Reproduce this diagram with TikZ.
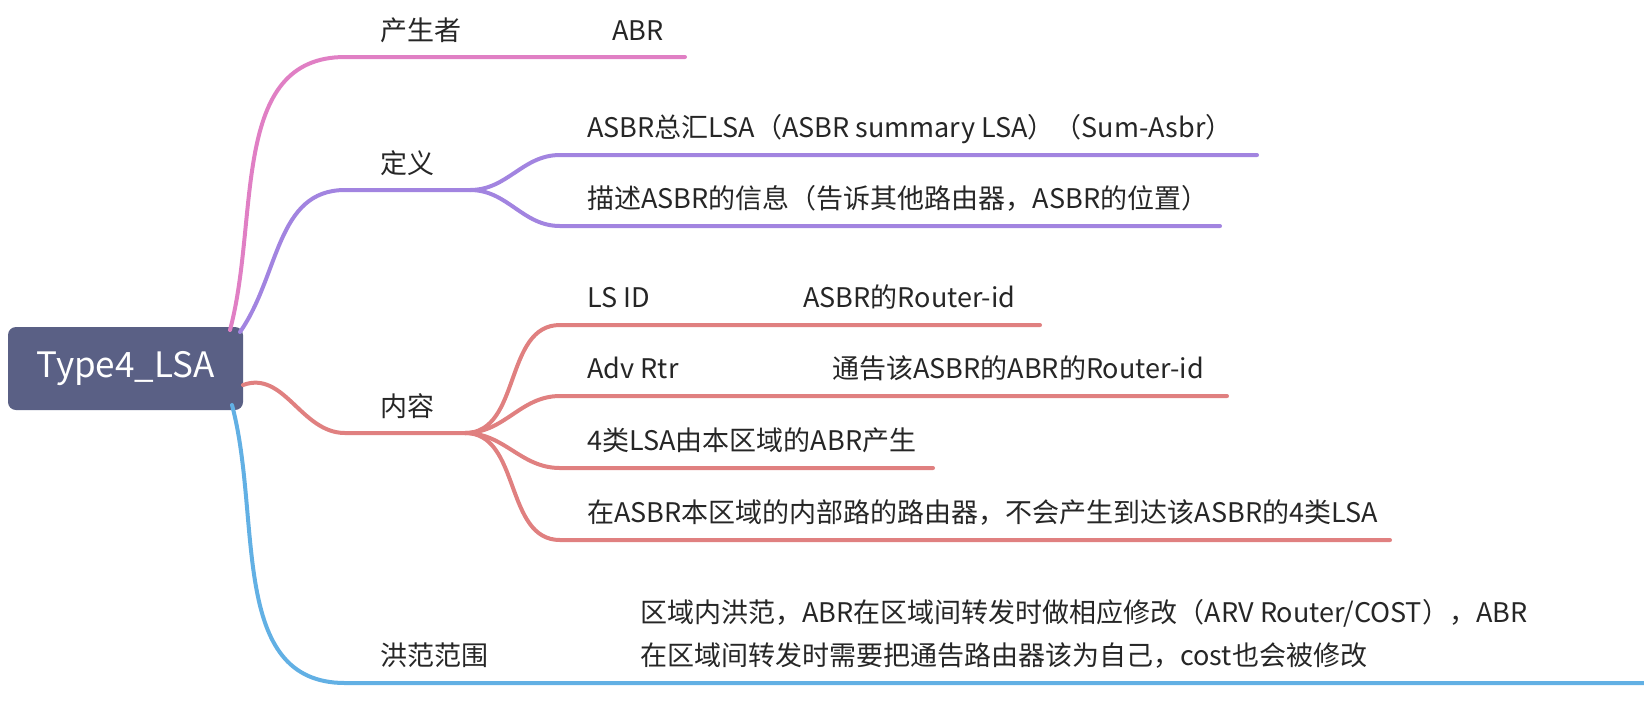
\documentclass[tikz,border=0pt]{standalone}
\usepackage{fontspec}
\setmainfont{Noto Sans CJK SC}
\begin{document}
\begin{tikzpicture}[x=0.5pt,y=-0.5pt,
  lbl/.style={anchor=base west,inner sep=0pt,font=\fontsize{13.5}{16}\selectfont,text=black!85},
  br/.style={line width=2pt,line cap=round}]
\definecolor{cpink}{HTML}{E07FC4}
\definecolor{cpurp}{HTML}{A284E0}
\definecolor{cred}{HTML}{E08080}
\definecolor{cblue}{HTML}{62B0E4}
\definecolor{croot}{HTML}{5A6085}
\useasboundingbox (0,0) rectangle (1644,720);
\node[fill=croot,rounded corners=4pt,minimum width=117.5pt,minimum height=41.5pt,text=white,font=\fontsize{17.5}{20}\selectfont,inner sep=0pt] (root) at (125.5,368.5) {Type4\_LSA};
% anchors
\coordinate (pA) at (230,330); \coordinate (p1) at (345,57); \coordinate (p2) at (685,57);
\coordinate (uA) at (240,332); \coordinate (u1) at (345,190); \coordinate (u2) at (470,190);
\coordinate (ua1) at (560,155); \coordinate (ua2) at (1257,155);
\coordinate (ub1) at (560,226); \coordinate (ub2) at (1220,226);
\coordinate (rA) at (243,385); \coordinate (r1) at (345,433); \coordinate (r2) at (465,433);
\coordinate (ra1) at (560,325); \coordinate (ra2) at (1040,325);
\coordinate (rb1) at (560,396); \coordinate (rb2) at (1227,396);
\coordinate (rc1) at (560,468); \coordinate (rc2) at (933,468);
\coordinate (rd1) at (560,540); \coordinate (rd2) at (1390,540);
\coordinate (bA) at (232,405); \coordinate (b1) at (345,683); \coordinate (b2) at (1644,683);
\draw[br,cpink] (pA) to[out=75,in=180] (p1) -- (p2);
\draw[br,cpurp] (uA) to[out=55,in=180] (u1) -- (u2);
\draw[br,cpurp] (u2) to[out=0,in=180] (ua1) -- (ua2);
\draw[br,cpurp] (u2) to[out=0,in=180] (ub1) -- (ub2);
\draw[br,cred] (rA) to[out=20,in=180] (r1) -- (r2);
\foreach \a/\b in {ra1/ra2,rb1/rb2,rc1/rc2,rd1/rd2}{\draw[br,cred] (r2) to[out=0,in=180] (\a) -- (\b);}
\draw[br,cblue] (bA) to[out=-75,in=180] (b1) -- (b2);
\node[lbl] (t1) at (380,40) {产生者};
\node[lbl] (t1b) at (612,40) {ABR};
\node[lbl] (t2) at (380,173) {定义};
\node[lbl] (t2a) at (587,137) {ASBR总汇LSA（ASBR summary LSA）（Sum-Asbr）};
\node[lbl] (t2b) at (587,208) {描述ASBR的信息（告诉其他路由器，ASBR的位置）};
\node[lbl] (t3) at (380,416) {内容};
\node[lbl] (t3a) at (587,307) {LS ID};
\node[lbl] (t3a2) at (803,307) {ASBR的Router-id};
\node[lbl] (t3b) at (587,378) {Adv Rtr};
\node[lbl] (t3b2) at (832,378) {通告该ASBR的ABR的Router-id};
\node[lbl] (t3c) at (587,450) {4类LSA由本区域的ABR产生};
\node[lbl] (t3d) at (587,522) {在ASBR本区域的内部路的路由器，不会产生到达该ASBR的4类LSA};
\node[lbl] (t4) at (380,665) {洪范范围};
\node[lbl] (t4a) at (640,622) {区域内洪范，ABR在区域间转发时做相应修改（ARV Router/COST），ABR};
\node[lbl] (t4b) at (640,665) {在区域间转发时需要把通告路由器该为自己，cost也会被修改};
\end{tikzpicture}
\end{document}
